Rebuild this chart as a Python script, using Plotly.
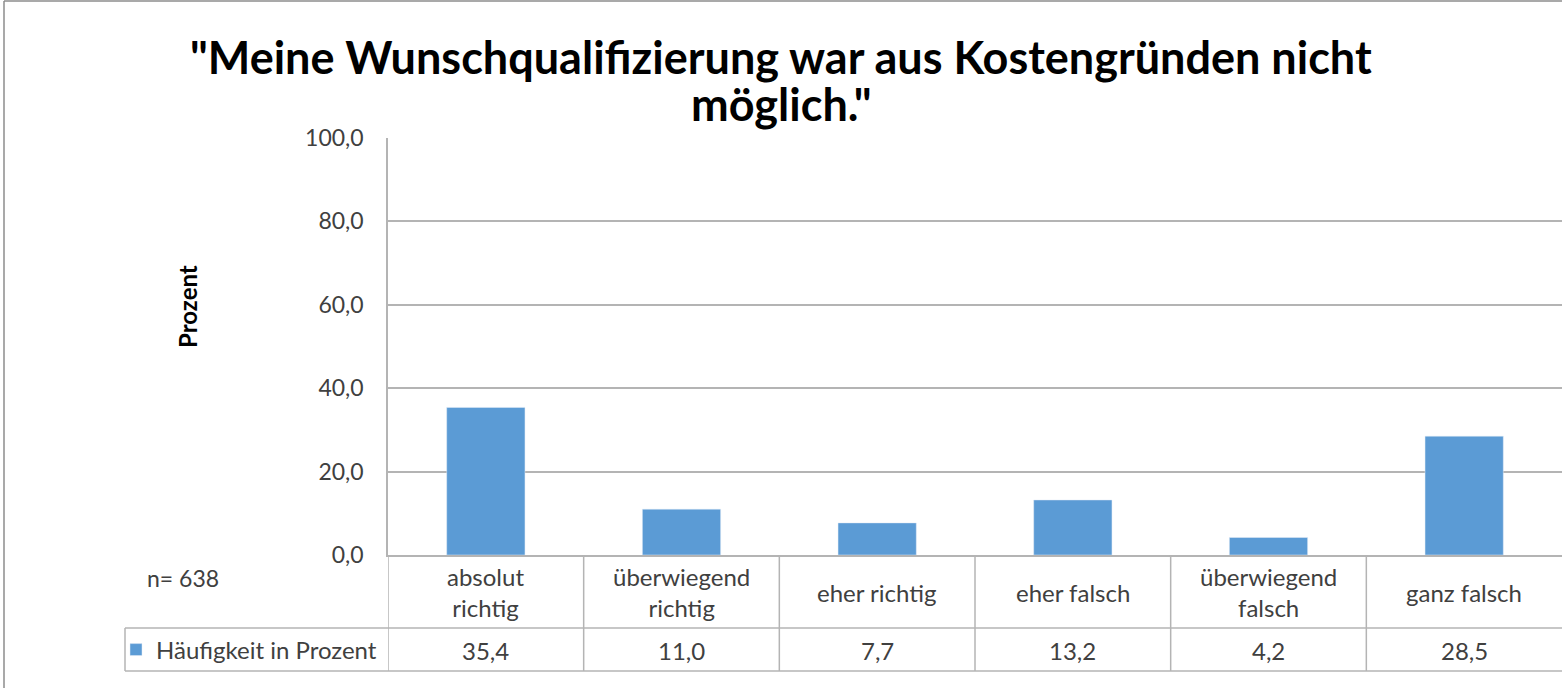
import plotly.graph_objects as go

# ---- data ----
categories = ["absolut<br>richtig", "überwiegend<br>richtig", "eher richtig",
              "eher falsch", "überwiegend<br>falsch", "ganz falsch"]
values = [35.4, 11.0, 7.7, 13.2, 4.2, 28.5]
y_ticks = [0, 20, 40, 60, 80, 100]
series_name = "Häufigkeit in Prozent"
title_lines = ['"Meine Wunschqualifizierung war aus Kostengründen nicht', 'möglich."']
n_text = "n= 638"
y_title = "Prozent"

W, H = 1562, 688
def xp(x):
    return x / W
def yp(y):
    return 1 - y / H

FONT = "Lato"
TXT = "#404040"
GRID = "#B4B4B4"
BAR = "#5B9BD5"
FS = 24

fig = go.Figure()
fig.add_trace(go.Bar(x=categories, y=values, name=series_name,
                     marker=dict(color=BAR), width=0.4, showlegend=True))

shapes = []
# chart border (left & top)
shapes.append(dict(type="line", xref="paper", yref="paper", x0=xp(4), x1=xp(4), y0=yp(1), y1=0,
                   line=dict(color="#8C8C8C", width=1.5)))
shapes.append(dict(type="line", xref="paper", yref="paper", x0=xp(4), x1=1, y0=yp(1), y1=yp(1),
                   line=dict(color="#8C8C8C", width=1.5)))
# data table lines
for i in range(len(categories)):
    shapes.append(dict(type="line", xref="x", yref="paper", x0=i - 0.5, x1=i - 0.5,
                       y0=yp(555), y1=yp(671), line=dict(color=GRID, width=1.5)))
for yy in (628, 671):
    shapes.append(dict(type="line", xref="paper", yref="paper", x0=xp(125), x1=1,
                       y0=yp(yy), y1=yp(yy), line=dict(color=GRID, width=1.5)))
shapes.append(dict(type="line", xref="paper", yref="paper", x0=xp(125), x1=xp(125),
                   y0=yp(628), y1=yp(671), line=dict(color=GRID, width=1.5)))

annotations = []
for c, v in zip(categories, values):
    annotations.append(dict(x=c, xref="x", y=yp(592), yref="paper", text=c, showarrow=False,
                            xanchor="center", yanchor="middle",
                            font=dict(family=FONT, size=FS, color=TXT)))
    annotations.append(dict(x=c, xref="x", y=yp(650), yref="paper",
                            text=f"{v:.1f}".replace(".", ","), showarrow=False,
                            xanchor="center", yanchor="middle",
                            font=dict(family=FONT, size=FS, color=TXT)))
annotations.append(dict(x=xp(145), xref="paper", y=yp(578), yref="paper", text=n_text,
                        showarrow=False, xanchor="left", yanchor="middle",
                        font=dict(family=FONT, size=23, color=TXT)))
annotations.append(dict(x=xp(187), xref="paper", y=yp(307), yref="paper",
                        text=f"<b>{y_title}</b>", textangle=-90, showarrow=False,
                        xanchor="center", yanchor="middle",
                        font=dict(family=FONT, size=24, color="black")))
for line, yy in zip(title_lines, (57, 104)):
    annotations.append(dict(x=0.5, xref="paper", y=yp(yy), yref="paper",
                            text=f"<b>{line}</b>", showarrow=False,
                            xanchor="center", yanchor="middle",
                            font=dict(family=FONT, size=45, color="black")))

fig.update_layout(
    width=W, height=H, autosize=False,
    margin=dict(l=0, r=0, t=0, b=0, pad=0, autoexpand=False),
    paper_bgcolor="white", plot_bgcolor="white",
    separators=",.",
    xaxis=dict(domain=[xp(388), 1], range=[-0.5, len(categories) - 0.5],
               showticklabels=False, showgrid=False, zeroline=False, automargin=False,
               showline=True, linecolor=GRID, linewidth=1.5, ticks=""),
    yaxis=dict(domain=[yp(555), yp(138)], range=[0, 100], tickvals=y_ticks,
               tickformat=".1f", showgrid=True, gridcolor=GRID, gridwidth=1.5,
               zeroline=False, showline=True, linecolor=GRID, linewidth=1.5, ticks="",
               automargin=False, ticklabelstandoff=18,
               tickfont=dict(family=FONT, size=23, color=TXT)),
    showlegend=True,
    legend=dict(x=xp(116), y=yp(650), xanchor="left", yanchor="middle",
                bgcolor="rgba(0,0,0,0)", font=dict(family=FONT, size=FS, color=TXT)),
    shapes=shapes, annotations=annotations,
)

fig.write_html("out.html", config={"displayModeBar": False},
               post_script="document.body.style.margin='0';")
